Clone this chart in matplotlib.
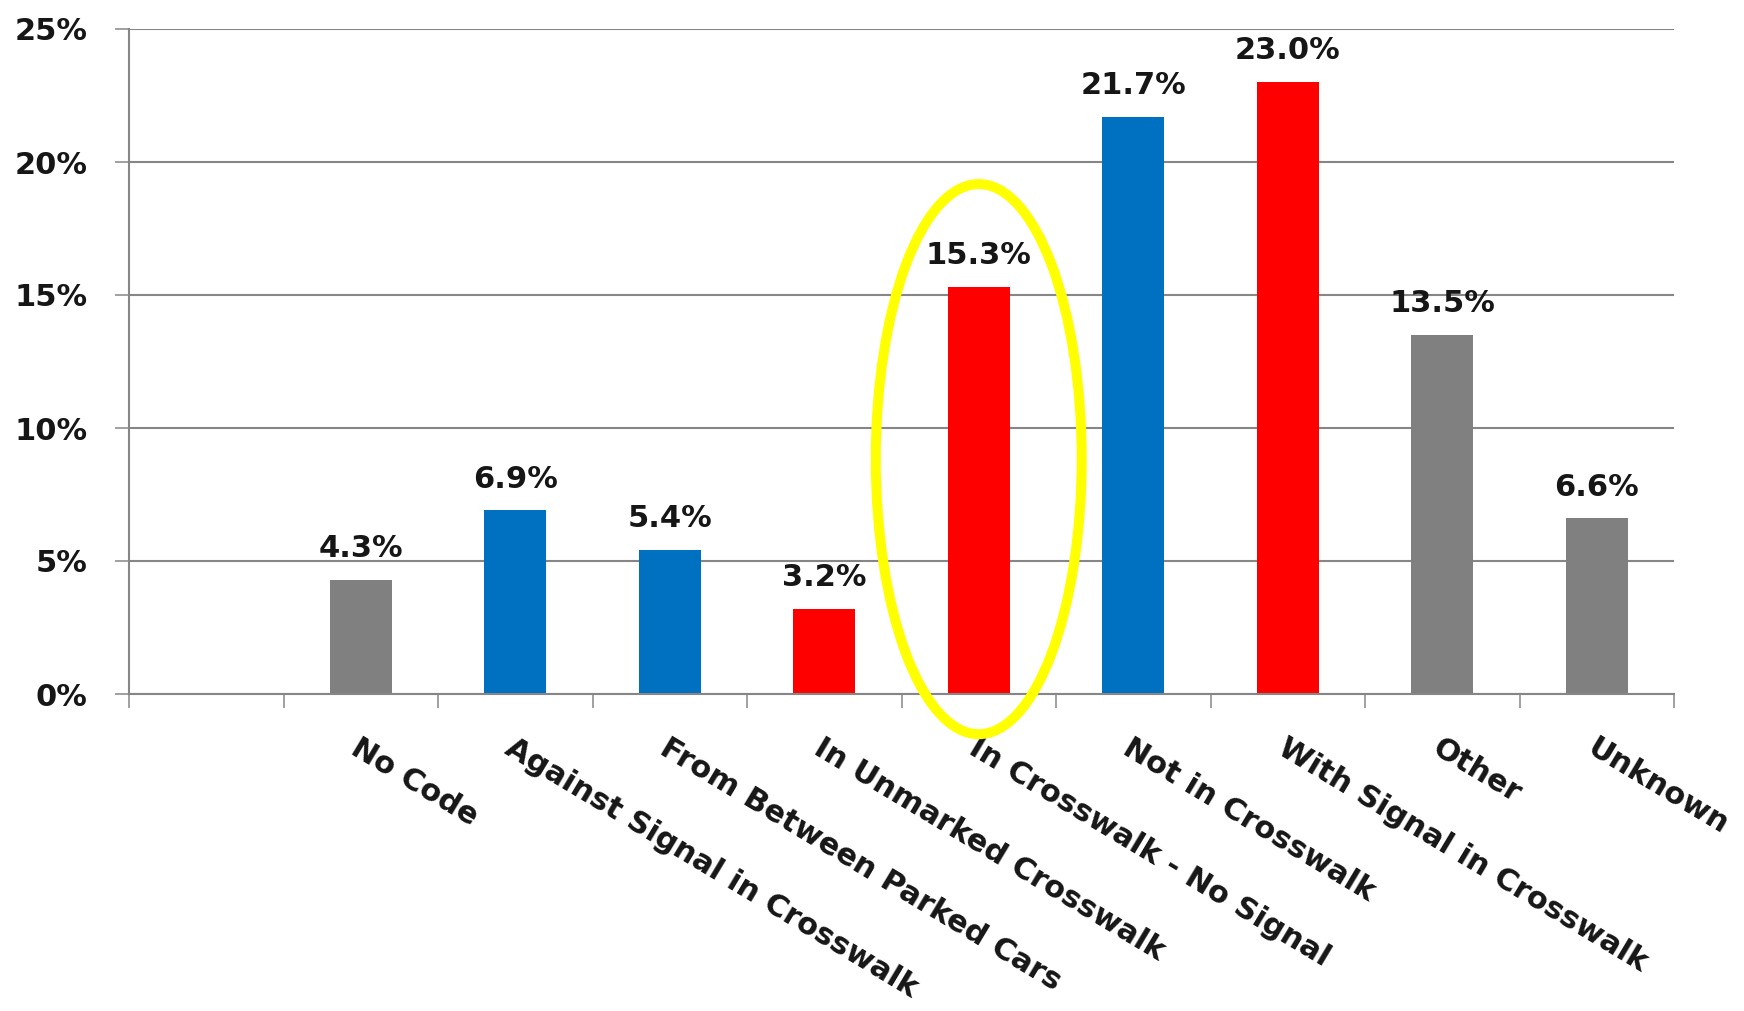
import numpy as np
import matplotlib.pyplot as plt
from matplotlib.patches import Ellipse

plt.rcParams['font.family'] = ['DejaVu Sans']
plt.rcParams['font.weight'] = 'bold'

# first slot is left empty in the original chart
categories = ["", "No Code", "Against Signal in Crosswalk", "From Between Parked Cars",
              "In Unmarked Crosswalk", "In Crosswalk - No Signal", "Not in Crosswalk",
              "With Signal in Crosswalk", "Other", "Unknown"]
values = [np.nan, 4.3, 6.9, 5.4, 3.2, 15.3, 21.7, 23.0, 13.5, 6.6]
bar_colors = ["#808080", "#808080", "#0070C0", "#0070C0", "#FF0000",
              "#FF0000", "#0070C0", "#FF0000", "#808080", "#808080"]
yticks = [0, 5, 10, 15, 20, 25]
highlight = "In Crosswalk - No Signal"

grid_c = "#868686"
text_c = "#161616"

fig = plt.figure(figsize=(17.44, 10.11), dpi=100)
ax = fig.add_axes([129 / 1744, 1 - 694 / 1011, 1545 / 1744, 665 / 1011])

x = np.arange(len(categories))
ax.bar(x, values, width=0.4, color=bar_colors, zorder=3)

ax.set_xlim(-0.5, len(categories) - 0.5)
ax.set_ylim(0, 25)

# gridlines
ax.set_yticks(yticks)
ax.set_yticklabels([f"{t}%" for t in yticks])
ax.yaxis.grid(True, color=grid_c, linewidth=1.5, zorder=0)
ax.set_axisbelow(True)

for s in ["top", "right"]:
    ax.spines[s].set_visible(False)
for s in ["left", "bottom"]:
    ax.spines[s].set_color(grid_c)
    ax.spines[s].set_linewidth(1.5)
    ax.spines[s].set_zorder(4)

ax.tick_params(axis="y", length=10, width=1.1, color=grid_c, pad=20,
               labelsize=22, labelcolor=text_c)

# tick marks on category boundaries, labels at centres
ax.set_xticks(np.arange(len(categories) + 1) - 0.5, minor=True)
ax.set_xticks(x)
ax.set_xticklabels(categories)
ax.tick_params(axis="x", which="minor", length=10, width=1.1, color=grid_c)
ax.tick_params(axis="x", which="major", length=0, pad=28, labelsize=22,
               labelcolor=text_c)
for lab in ax.get_xticklabels():
    lab.set_rotation(-31)
    lab.set_rotation_mode("anchor")
    lab.set_ha("left")
    lab.set_va("top")

# value labels
for xi, v in zip(x, values):
    if np.isnan(v):
        continue
    ax.annotate(f"{v:.1f}%", xy=(xi, v), xytext=(0, 16.5), textcoords="offset points",
                ha="center", va="baseline", fontsize=22, fontweight="bold",
                color=text_c)

# yellow ring round the highlighted bar
hx = categories.index(highlight)
ring = Ellipse((hx, 8.83), width=1.333, height=20.68, fill=False,
               edgecolor="#FFFF00", linewidth=7.2, zorder=5, clip_on=False)
ax.add_patch(ring)

fig.savefig("out.png", dpi=100)
